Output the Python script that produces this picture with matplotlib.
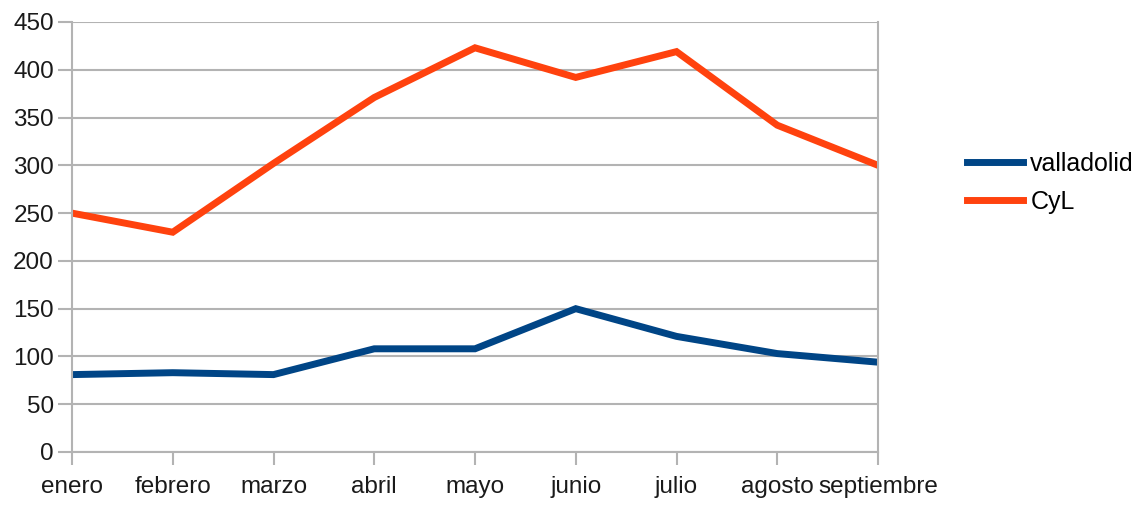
import numpy as np
import matplotlib.pyplot as plt

# month labels and series
meses = ['enero', 'febrero', 'marzo', 'abril', 'mayo', 'junio', 'julio', 'agosto', 'septiembre']
valladolid = [81, 83, 81, 108, 108, 150, 121, 103, 94]
cyl = [250, 230, 302, 371, 423, 392, 419, 342, 300]

plt.rcParams['font.family'] = ['Liberation Sans', 'DejaVu Sans']

fig = plt.figure(figsize=(11.47, 5.07), dpi=100)
ax = fig.add_axes([72 / 1147, 1 - 452 / 507, (878 - 72) / 1147, (452 - 22) / 507])

x = np.arange(len(meses))
ax.plot(x, valladolid, color='#004586', linewidth=5, label='valladolid', solid_joinstyle='miter')
ax.plot(x, cyl, color='#ff420e', linewidth=5, label='CyL', solid_joinstyle='miter')

ax.set_xlim(0, len(meses) - 1)
ax.set_ylim(0, 450)
ax.set_yticks(range(0, 451, 50))
ax.set_xticks(x)
ax.set_xticklabels(meses)

ax.grid(axis='y', color='#b3b3b3', linewidth=1.5)
ax.set_axisbelow(True)
for s in ax.spines.values():
    s.set_color('#b3b3b3')
    s.set_linewidth(1.5)
ax.spines['top'].set_visible(False)
ax.tick_params(axis='both', colors='#b3b3b3', width=1.5, labelcolor='#1a1a1a', labelsize=17.5)
ax.tick_params(axis='x', length=9, pad=8)
ax.tick_params(axis='y', length=10, pad=3)

leg = ax.legend(loc='center left', bbox_to_anchor=(1.082, 0.626), frameon=False,
                fontsize=18, handlelength=2.25, handletextpad=0.3, labelspacing=0.55)

fig.savefig('out.png', dpi=100)
